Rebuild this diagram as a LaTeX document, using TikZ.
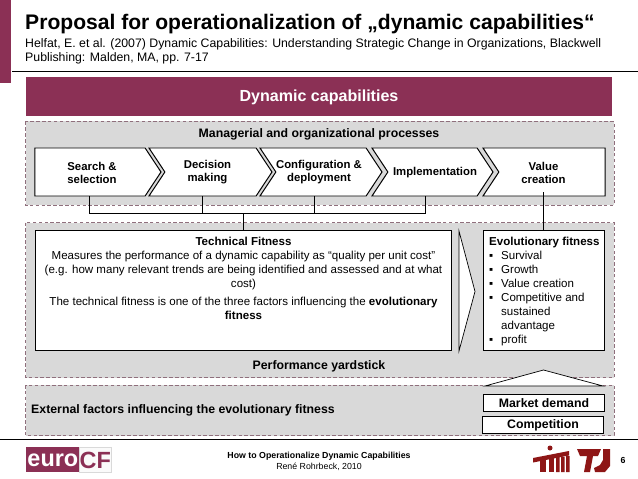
\documentclass[tikz,border=0pt]{standalone}
\usepackage{fontspec}
\setmainfont{Liberation Sans}
\usetikzlibrary{shapes.symbols}
\definecolor{maroon}{HTML}{8B3055}
\definecolor{logored}{HTML}{8E1616}
\definecolor{panelgray}{HTML}{D9D9D9}
\definecolor{panelline}{HTML}{8F6F7C}
\tikzset{
	panel/.style={draw=panelline, fill=panelgray, densely dashed, line width=0.4pt},
	blackbox/.style={draw, fill=white, line width=0.85pt, inner sep=0pt, outer sep=0pt},
	chevron/.style={blackbox, shape=signal, signal from=west, signal to=east, signal pointer angle=113, minimum height=1.44cm, anchor=east},
	boxlabel/.style={align=center, font=\fontsize{9.7}{11.1}\selectfont\bfseries},
	biglabel/.style={align=center, font=\fontsize{10.5}{12}\selectfont\bfseries},
	bodytext/.style={font=\fontsize{9.85}{11.94}\selectfont},
	wire/.style={line width=0.85pt}
}
\newcommand{\itemmark}{\makebox[10.2pt][l]{▪}}
\begin{document}
\begin{tikzpicture}[x=0.03cm, y=-0.03cm, line join=miter]
	\useasboundingbox (0,0) rectangle (638,479);
	\fill[white] (0,0) rectangle (638,479);
	% header
	\fill[maroon] (0,0) rectangle (11,83);
	\draw[line width=0.7pt] (12,71) -- (638,71);
	\node[anchor=west, inner sep=0pt, font=\fontsize{18}{20}\selectfont\bfseries] (title) at (25,24) {Proposal for operationalization of „dynamic capabilities“};
	\node[anchor=west, inner sep=0pt, font=\fontsize{10.5}{12}\selectfont] (source1) at (25,44) {Helfat, E. et al. (2007) Dynamic Capabilities: Understanding Strategic Change in Organizations, Blackwell};
	\node[anchor=west, inner sep=0pt, font=\fontsize{10.5}{12}\selectfont] (source2) at (25,58) {Publishing: Malden, MA, pp. 7-17};
	\fill[maroon] (26,77) rectangle (612,116);
	\node[text=white, font=\fontsize{13.7}{15}\selectfont\bfseries] (dynamic) at (319,97) {Dynamic capabilities};
	% panels
	\draw[panel] (25.5,121.5) rectangle (614,205);
	\draw[panel] (25.5,222.5) rectangle (614,377.5);
	\draw[panel] (25.5,385) rectangle (614,435.5);
	\node[biglabel] (managerial) at (319,134) {Managerial and organizational processes};
	\node[biglabel] (yardstick) at (319,366) {Performance yardstick};
	\node[biglabel, anchor=west, inner sep=0pt] (external) at (31,410) {External factors influencing the evolutionary fitness};
	% process chain
	\node[chevron, signal from=nowhere, minimum width=3.78cm] (search) at (161,172) {};
	\node[chevron, minimum width=3.69cm] (decision) at (272,172) {};
	\node[chevron, minimum width=3.66cm] (config) at (382,172) {};
	\node[chevron, minimum width=3.63cm] (implement) at (493,172) {};
	\node[chevron, signal to=nowhere, minimum width=3.66cm] (value) at (605,172) {};
	\node[boxlabel] (searchtxt) at (92,172.5) {Search \&\\selection};
	\node[boxlabel] (decisiontxt) at (207.5,172.5) {Decision\\making};
	\node[boxlabel] (configtxt) at (319,172.5) {Configuration \&\\deployment};
	\node[boxlabel] (implementtxt) at (435,173) {Implementation};
	\node[boxlabel] (valuetxt) at (543.5,172.5) {Value\\creation};
	% lower boxes
	\node[blackbox, anchor=north west, minimum width=12.48cm, minimum height=3.615cm] (technical) at (35.5,230) {};
	\node[blackbox, anchor=north west, minimum width=3.63cm, minimum height=3.615cm] (evolutionary) at (483.5,230) {};
	\node[blackbox, biglabel, anchor=north west, minimum width=3.63cm, minimum height=0.525cm] (market) at (483.5,394) {Market demand};
	\node[blackbox, biglabel, anchor=north west, minimum width=3.63cm, minimum height=0.51cm] (competition) at (482.5,416.5) {Competition};
	\node[anchor=north, align=center, inner sep=0pt, bodytext] (technicaltxt) at (243.5,237) {\textbf{Technical Fitness}\\Measures the performance of a dynamic capability as “quality per unit cost”\\(e.g. how many relevant trends are being identified and assessed and at what\\cost)\\[3.4pt]The technical fitness is one of the three factors influencing the \textbf{evolutionary}\\\textbf{fitness}};
	\node[anchor=north west, align=left, inner sep=0pt, bodytext] (evolutionarytxt) at (489,237) {\textbf{Evolutionary fitness}\\
		\itemmark Survival\\\itemmark Growth\\\itemmark Value creation\\\itemmark Competitive and\\\hspace*{10.2pt}sustained\\\hspace*{10.2pt}advantage\\\itemmark profit};
	% arrows
	\draw[fill=white, line width=0.6pt] (459,231) -- (475,291.5) -- (459,351) -- cycle;
	\draw[fill=white, line width=0.6pt] (485,386) -- (543.5,370) -- (603,386) -- cycle;
	% connectors
	\coordinate (busleft) at (89.5,213.5);
	\coordinate (busdecision) at (202.5,213.5);
	\coordinate (busconfig) at (314.5,213.5);
	\coordinate (busright) at (425.5,213.5);
	\coordinate (busmid) at (243.5,213.5);
	\coordinate (valuetop) at (543.5,192);
	\draw[wire] (busleft |- search.south) -- (busleft) -- (busright) -- (busright |- implement.south);
	\draw[wire] (busdecision |- decision.south) -- (busdecision);
	\draw[wire] (busconfig |- config.south) -- (busconfig);
	\draw[wire] (busmid) -- (busmid |- technical.north);
	\draw[wire] (valuetop) -- (valuetop |- evolutionary.north);
	% footer
	\draw[line width=0.7pt] (0,439.5) -- (638,439.5);
	\node[align=center, inner sep=0pt, font=\fontsize{7.5}{9.4}\selectfont] (footer) at (319,461.5) {\textbf{How to Operationalize Dynamic Capabilities}\\René Rohrbeck, 2010};
	\node[font=\fontsize{7.5}{8}\selectfont\bfseries] (pagenum) at (623,460) {6};
	% logos
	\fill[maroon] (26,447) rectangle (79,472);
	\draw[black!15, fill=black!2, line width=0.4pt] (79,447) rectangle (111,472);
	\node[text=white, anchor=east, inner sep=0pt, font=\fontsize{20}{22}\selectfont\bfseries] (euro) at (78.5,460) {euro};
	\node[text=maroon, anchor=west, inner sep=0pt, font=\fontsize{20}{22}\selectfont\bfseries] (cf) at (79.5,460) {CF};
	\fill[logored] (550,448) circle (2.5);
	\fill[logored] (533,458) -- (569,451) -- (569,455.5) -- (533,462.5) -- cycle;
	\fill[logored] (540,459) rectangle (546,472);
	\fill[logored] (549,458) rectangle (554,472);
	\fill[logored] (556,457) rectangle (559.5,472) (561,457) rectangle (564.5,472) (566,456) rectangle (569.5,472);
	\fill[logored] (577,449) -- (601,449) -- (598,456) -- (593,456) -- (590,472) -- (584,472) -- (587,456) -- (580,456) -- cycle;
	\fill[logored] (603,449) -- (610,449) -- (610,466) -- (605,472) -- (595,472) -- (594,468) -- (600,465) -- (603,460) -- cycle;
\end{tikzpicture}
\end{document}
